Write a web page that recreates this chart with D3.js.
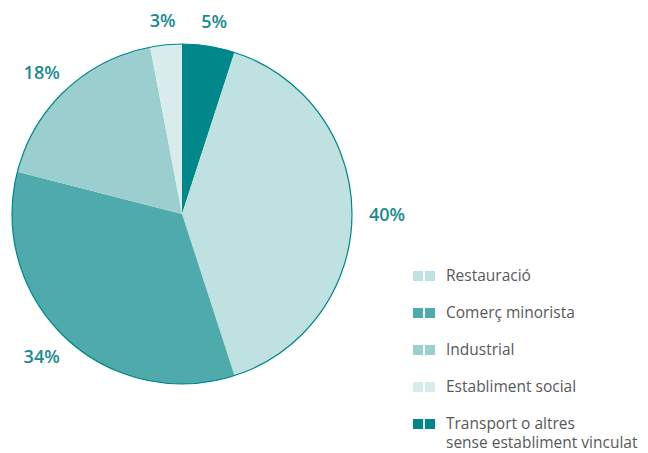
<!DOCTYPE html>
<html>
<head>
<meta charset="utf-8">
<script src="https://cdn.jsdelivr.net/npm/d3@7"></script>
<style>
  body { margin: 0; background: #fff; }
</style>
</head>
<body>
<div id="pie-container"></div>
<script>
// Data (clockwise from 12 o'clock)
const categories = ["Transport o altres sense establiment vinculat", "Restauració", "Comerç minorista", "Industrial", "Establiment social"];
const values = [5, 40, 34, 18, 3];
const colors = ["#00878a", "#bfe1e2", "#4eaaab", "#9bcfcf", "#d8ecec"];

// Legend order as in the picture
const legendOrder = ["Restauració", "Comerç minorista", "Industrial", "Establiment social", "Transport o altres sense establiment vinculat"];
const legendLines = [["Restauració"], ["Comerç minorista"], ["Industrial"], ["Establiment social"], ["Transport o altres", "sense establiment vinculat"]];

const width = 648;
const height = 453;
const cx = 182;
const cy = 214;
const radius = 170;
const labelColor = "#1a8b8d";
const textColor = "#58595b";

const svg = d3.select("#pie-container")
    .append("svg")
    .attr("width", width)
    .attr("height", height)
    .attr("viewBox", [0, 0, width, height])
    .style("font-family", "'Open Sans', sans-serif");

const color = d3.scaleOrdinal().domain(categories).range(colors);

const data = categories.map((c, i) => ({ name: c, value: values[i] }));

const pie = d3.pie()
    .sort(null)
    .value(d => d.value);

const arc = d3.arc()
    .innerRadius(0)
    .outerRadius(radius);

const arcs = pie(data);

const g = svg.append("g")
    .attr("transform", `translate(${cx},${cy})`);

// Slices
g.selectAll("path.slice")
    .data(arcs)
    .join("path")
    .attr("class", "slice")
    .attr("fill", d => color(d.data.name))
    .attr("d", arc);

// Outer rim
g.append("circle")
    .attr("r", radius)
    .attr("fill", "none")
    .attr("stroke", "#00878a")
    .attr("stroke-width", 1.2);

// Percentage labels, on an ellipse around the pie
const labelRx = radius + 35;
const labelRy = radius + 25;

g.selectAll("text.pct")
    .data(arcs)
    .join("text")
    .attr("class", "pct")
    .attr("fill", labelColor)
    .attr("font-size", 18)
    .attr("font-weight", 600)
    .attr("text-anchor", "middle")
    .attr("dominant-baseline", "central")
    .attr("x", d => labelRx * Math.sin((d.startAngle + d.endAngle) / 2))
    .attr("y", d => -labelRy * Math.cos((d.startAngle + d.endAngle) / 2))
    .text(d => d.data.value + "%");

// Legend
const legendY = d3.scalePoint()
    .domain(legendOrder)
    .range([276, 424]);

const legend = svg.append("g")
    .selectAll("g")
    .data(legendOrder)
    .join("g")
    .attr("transform", d => `translate(413,${legendY(d)})`);

legend.selectAll("rect")
    .data(d => [d, d])
    .join("rect")
    .attr("x", (d, i) => i * 12)
    .attr("y", -5)
    .attr("width", 10)
    .attr("height", 10)
    .attr("fill", d => color(d));

legend.append("text")
    .attr("x", 33)
    .attr("fill", textColor)
    .attr("font-size", 15.5)
    .selectAll("tspan")
    .data((d, i) => legendLines[i])
    .join("tspan")
    .attr("x", 33)
    .attr("dy", (d, i) => i === 0 ? "0.35em" : "1.22em")
    .text(d => d);
</script>
</body>
</html>
